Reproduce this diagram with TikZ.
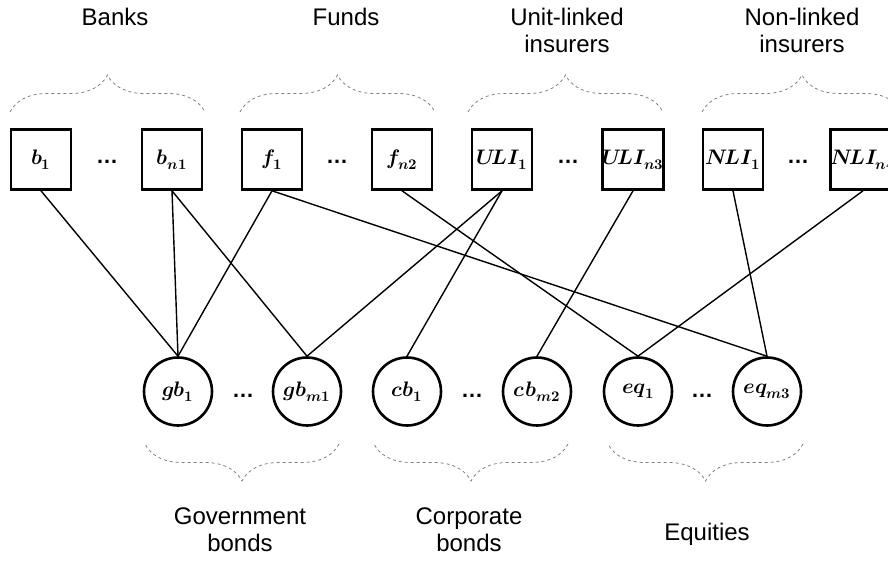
\documentclass[tikz,border=0pt]{standalone}
\usepackage{amsmath}
\usepackage{fontspec}
\usepackage{unicode-math}
\setmainfont{Liberation Sans}
\setmathfont{Latin Modern Math}
\usepackage{tikz}
\usetikzlibrary{decorations.pathreplacing}

\begin{document}
\begin{tikzpicture}[x=1pt, y=1pt,
    holder/.style={rectangle, draw=black, line width=2.6pt, minimum size=60pt, inner sep=0pt, font=\fontsize{21}{23}\selectfont},
    asset/.style={circle, draw=black, line width=2.6pt, minimum size=68pt, inner sep=0pt, font=\fontsize{21}{23}\selectfont},
    gap/.style={inner sep=0pt, font=\fontsize{22}{24}\selectfont\bfseries},
    group/.style={inner sep=0pt, anchor=north, align=center, font=\fontsize{24}{27}\selectfont},
    link/.style={line width=1.4pt},
    bracket/.style={draw=gray, dashed, line width=0.8pt, decorate, decoration={brace, amplitude=37pt}}]
            \clip (0, 0) rectangle (888, 562);

            % holders
            \node[holder] (b1) at (41, 402.5) {$\symbfit{b}_{\symbf{1}}$};
            \node[holder] (bn1) at (172, 402.5) {$\symbfit{b}_{\symbfit{n}\symbf{1}}$};
            \node[holder] (f1) at (272, 402.5) {$\symbfit{f}_{\symbf{1}}$};
            \node[holder] (fn2) at (402, 402.5) {$\symbfit{f}_{\symbfit{n}\symbf{2}}$};
            \node[holder] (uli1) at (502, 402.5) {$\symbfit{U\!LI}_{\symbf{1}}$};
            \node[holder] (ulin3) at (633, 402.5) {$\symbfit{U\!LI}_{\symbfit{n}\symbf{3}}$};
            \node[holder] (nli1) at (733, 402.5) {$\symbfit{N\!LI}_{\symbf{1}}$};
            \node[holder] (nlin4) at (863, 402.5) {$\symbfit{N\!LI}_{\symbfit{n}\symbf{4}}$};

            \node[gap] (d1) at (107, 400) {…};
            \node[gap] (d2) at (337, 400) {…};
            \node[gap] (d3) at (568, 400) {…};
            \node[gap] (d4) at (798, 400) {…};

            % assets
            \node[asset] (gb1) at (178, 170.5) {$\symbfit{gb}_{\symbf{1}}$};
            \node[asset] (gbm1) at (307, 170.5) {$\symbfit{gb}_{\symbfit{m}\symbf{1}}$};
            \node[asset] (cb1) at (407, 170.5) {$\symbfit{cb}_{\symbf{1}}$};
            \node[asset] (cbm2) at (537, 170.5) {$\symbfit{cb}_{\symbfit{m}\symbf{2}}$};
            \node[asset] (eq1) at (638, 170.5) {$\symbfit{eq}_{\symbf{1}}$};
            \node[asset] (eqm3) at (767, 170.5) {$\symbfit{eq}_{\symbfit{m}\symbf{3}}$};

            \node[gap] (d5) at (243, 166) {…};
            \node[gap] (d6) at (472, 166) {…};
            \node[gap] (d7) at (702, 166) {…};

            % groups
            \node[group] (banks) at (115, 554) {Banks};
            \node[group] (funds) at (346, 554) {Funds};
            \node[group] (ulins) at (567, 554) {Unit-linked\\insurers};
            \node[group] (nlins) at (802, 554) {Non-linked\\insurers};
            \node[group] (govt) at (240, 54) {Government\\bonds};
            \node[group] (corp) at (469, 54) {Corporate\\bonds};
            \node[group] (equit) at (707, 39) {Equities};

            \draw[bracket] (10, 450) -- (205, 450);
            \draw[bracket] (240, 450) -- (435, 450);
            \draw[bracket] (468, 450) -- (663, 450);
            \draw[bracket] (702, 450) -- (902, 450);
            \draw[bracket] (339, 118) -- (145, 118);
            \draw[bracket] (568, 118) -- (374, 118);
            \draw[bracket] (803, 118) -- (608, 118);

            % holdings
            \draw[link] (b1.south) -- (gb1.north);
            \draw[link] (bn1.south) -- (gb1.north);
            \draw[link] (bn1.south) -- (gbm1.north);
            \draw[link] (f1.south) -- (gb1.north);
            \draw[link] (f1.south) -- (eqm3.north);
            \draw[link] (fn2.south) -- (eq1.north);
            \draw[link] (uli1.south) -- (gbm1.north);
            \draw[link] (uli1.south) -- (cb1.north);
            \draw[link] (ulin3.south) -- (cbm2.north);
            \draw[link] (nli1.south) -- (eqm3.north);
            \draw[link] (nlin4.south) -- (eq1.north);
        \end{tikzpicture}
\end{document}
